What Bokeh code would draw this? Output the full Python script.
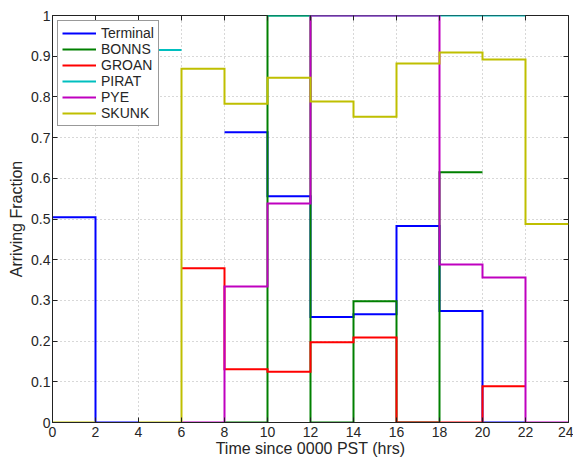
import math
from bokeh.plotting import figure
from bokeh.models import LinearAxis, FixedTicker
from bokeh.embed import file_html
from bokeh.resources import INLINE

nan = float("nan")

# ---- data (bin edges in hours, one value per 2-hour bin; nan = no data) ----
edges = [0, 2, 4, 6, 8, 10, 12, 14, 16, 18, 20, 22, 24]
series_names = ["Terminal", "BONNS", "GROAN", "PIRAT", "PYE", "SKUNK"]
terminal = [0.504, 0.0, nan, nan, 0.713, 0.556, 0.259, 0.266, 0.483, 0.274, 0.0, nan]
bonns = [nan, nan, nan, nan, 0.0, 1.0, 0.0, 0.298, 0.0, 0.615, nan, nan]
groan = [nan, nan, nan, 0.379, 0.131, 0.125, 0.197, 0.209, 0.0, 0.0, 0.089, nan]
pirat = [nan, nan, 0.915, nan, nan, 1.0, 1.0, 1.0, 1.0, 1.0, 1.0, nan]
pye = [nan, nan, nan, 0.0, 0.334, 0.538, 1.0, 1.0, 1.0, 0.388, 0.356, 0.0]
skunk = [0.0, nan, 0.0, 0.869, 0.783, 0.847, 0.789, 0.751, 0.882, 0.909, 0.892, 0.488]
series_values = [terminal, bonns, groan, pirat, pye, skunk]
series_colors = ["#0000ff", "#008000", "#ff0000", "#00bfbf", "#bf00bf", "#bfbf00"]

xticks = [0, 2, 4, 6, 8, 10, 12, 14, 16, 18, 20, 22, 24]
yticks = [0, 0.1, 0.2, 0.3, 0.4, 0.5, 0.6, 0.7, 0.8, 0.9, 1.0]
ytick_labels = ["0", "0.1", "0.2", "0.3", "0.4", "0.5", "0.6", "0.7", "0.8", "0.9", "1"]

FONT = "Liberation Sans"
TXT = "#262626"


def stair(vals):
    xs, ys = [], []
    prev_nan = True
    for i, v in enumerate(vals):
        if math.isnan(v):
            if not prev_nan:
                xs.append(nan)
                ys.append(nan)
            prev_nan = True
            continue
        xs += [edges[i], edges[i + 1]]
        ys += [v, v]
        prev_nan = False
    return xs, ys


p = figure(width=573, height=459, x_range=(0, 24), y_range=(0, 1),
           output_backend="svg", toolbar_location=None,
           min_border_left=52, min_border_right=5, min_border_top=15,
           min_border_bottom=37)

p.outline_line_color = "#222222"
p.outline_line_width = 1
p.background_fill_color = "white"
p.border_fill_color = "white"

for name, vals, col in zip(series_names, series_values, series_colors):
    xs, ys = stair(vals)
    p.line(xs, ys, line_color=col, line_width=2, line_join="miter", legend_label=name)

p.xaxis.ticker = FixedTicker(ticks=xticks)
p.yaxis.ticker = FixedTicker(ticks=yticks)
p.yaxis.major_label_overrides = {t: s for t, s in zip(yticks, ytick_labels)}
p.xaxis.axis_label = "Time since 0000 PST (hrs)"
p.yaxis.axis_label = "Arriving Fraction"

for ax in (p.xaxis[0], p.yaxis[0]):
    ax.major_tick_in = 5
    ax.major_tick_out = 0
    ax.minor_tick_line_color = None
    ax.major_tick_line_color = "#222222"
    ax.axis_line_color = "#222222"
    ax.major_label_text_font = FONT
    ax.major_label_text_font_size = "14px"
    ax.major_label_text_color = TXT
    ax.axis_label_text_font = FONT
    ax.axis_label_text_font_size = "16px"
    ax.axis_label_text_font_style = "normal"
    ax.axis_label_text_color = TXT

p.xaxis.major_label_standoff = 4
p.xaxis.axis_label_standoff = 0
p.yaxis.major_label_standoff = 2
p.yaxis.axis_label_standoff = 3

for loc, ticks in (("above", xticks), ("right", yticks)):
    ax = LinearAxis(ticker=FixedTicker(ticks=ticks), major_label_text_font_size="1px",
                    major_label_text_color=None,
                    major_tick_in=5, major_tick_out=0, minor_tick_line_color=None,
                    major_tick_line_color="#222222", axis_line_color=None,
                    major_label_standoff=0)
    p.add_layout(ax, loc)

p.grid.grid_line_color = "#b0b0b0"
p.grid.grid_line_dash = "1 3"
p.grid.grid_line_width = 1
p.xgrid.ticker = FixedTicker(ticks=xticks)
p.ygrid.ticker = FixedTicker(ticks=yticks)

lg = p.legend[0]
lg.location = "top_left"
lg.margin = 5
lg.padding = 4
lg.spacing = 0
lg.label_height = 16
lg.glyph_height = 16
lg.glyph_width = 34
lg.label_standoff = 5
lg.label_text_font = FONT
lg.label_text_font_size = "14px"
lg.label_text_color = TXT
lg.border_line_color = "#333333"
lg.border_line_width = 1
lg.background_fill_color = "white"
lg.background_fill_alpha = 1.0

open("out.html", "w").write(file_html(p, INLINE))
